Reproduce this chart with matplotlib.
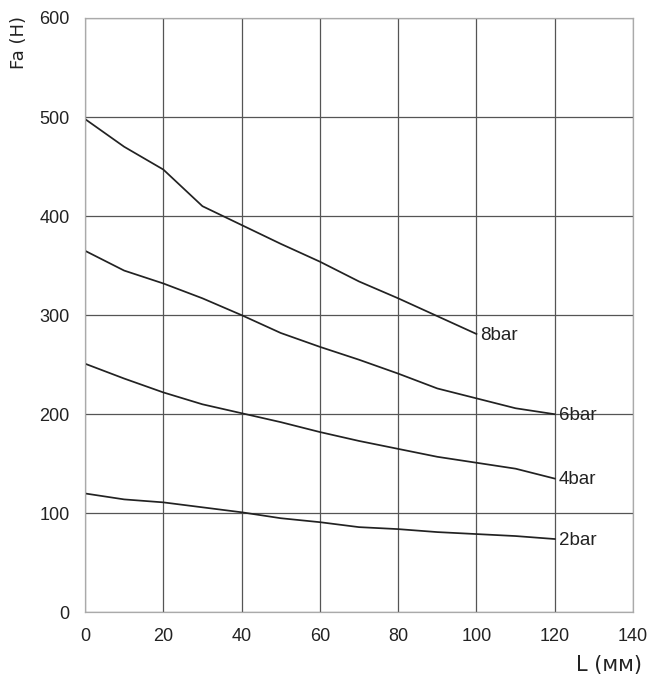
import matplotlib
matplotlib.use("Agg")
import matplotlib.pyplot as plt

matplotlib.rcParams['font.family'] = "Liberation Sans"

# Stroke L (mm) vs force Fa (N) for several pressures
L_mm = [0, 10, 20, 30, 40, 50, 60, 70, 80, 90, 100, 110, 120]

fa_8bar = [498, 470, 447, 410, 391, 372, 354, 334, 317, 299, 281]
fa_6bar = [365, 345, 332, 317, 300, 282, 268, 255, 241, 226, 216, 206, 200]
fa_4bar = [251, 236, 222, 210, 201, 192, 182, 173, 165, 157, 151, 145, 135]
fa_2bar = [120, 114, 111, 106, 101, 95, 91, 86, 84, 81, 79, 77, 74]

series = [('8bar', fa_8bar), ('6bar', fa_6bar), ('4bar', fa_4bar), ('2bar', fa_2bar)]

fig = plt.figure(figsize=(6.48, 6.76), dpi=100)
ax = fig.add_axes([0.1312, 0.0942, 0.8457, 0.8792])

for name, vals in series:
    xs = L_mm[:len(vals)]
    ax.plot(xs, vals, color='#222222', lw=1.25)
    ax.annotate(name, (xs[-1], vals[-1]), xytext=(3, -1), textcoords='offset points',
                va='center', ha='left', fontsize=13.5, color='#222222')

ax.set_xlim(0, 140)
ax.set_ylim(0, 600)
ax.set_xticks(range(0, 141, 20))
ax.set_yticks(range(0, 601, 100))
ax.grid(True, color='#555555', lw=0.9)
ax.set_axisbelow(True)
ax.tick_params(length=0, labelsize=13, colors='#222222')
ax.tick_params(axis='x', pad=11)
ax.tick_params(axis='y', pad=11)
for s in ax.spines.values():
    s.set_color('#aaaaaa')
    s.set_linewidth(0.9)

fig.text(0.029, 0.937, 'Fa (H)', rotation=90, ha='center', va='center',
         fontsize=13, family='DejaVu Sans', color='#222222')
fig.text(0.99, 0.016, 'L (мм)', ha='right', va='center',
         fontsize=15, family='DejaVu Sans', color='#222222')

plt.savefig('out.png', dpi=100)
